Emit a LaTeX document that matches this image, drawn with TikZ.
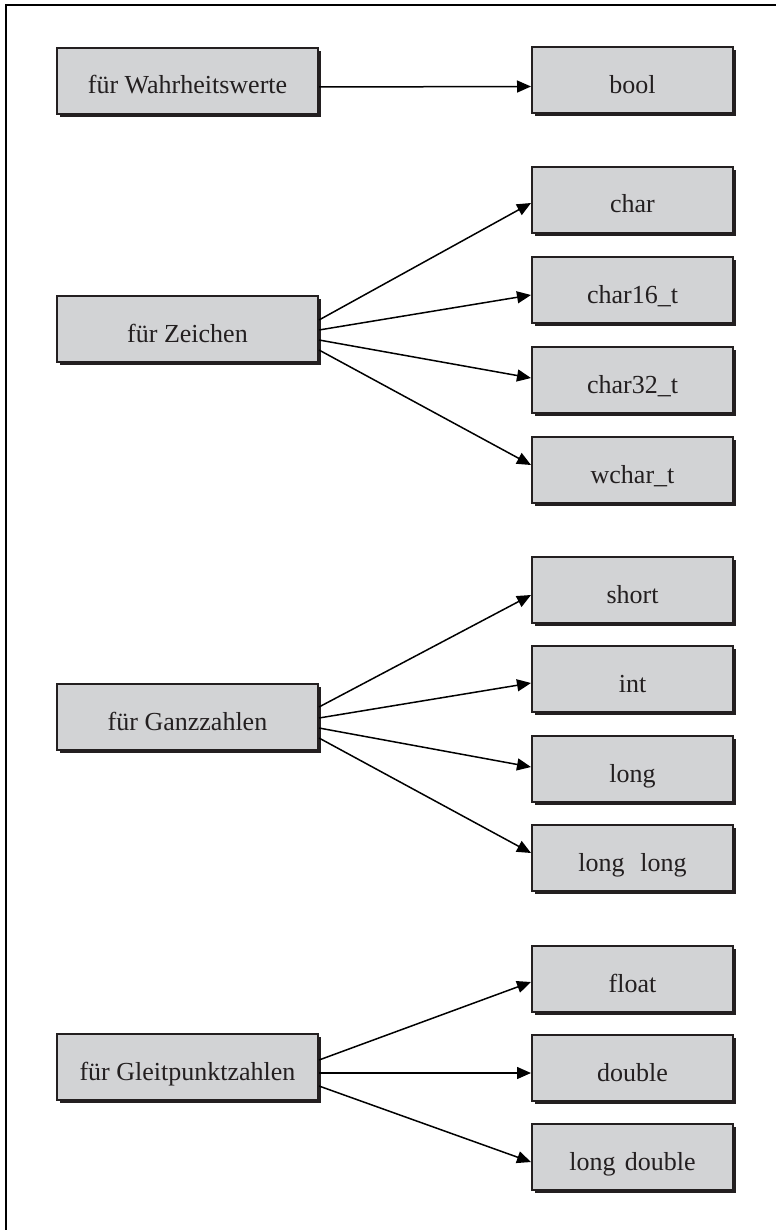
\documentclass[tikz,border=0pt]{standalone}
\usepackage{fontspec}
\setmainfont{Liberation Serif}
\usetikzlibrary{arrows.meta,shadows}

\definecolor{boxfill}{RGB}{210,211,213}
\definecolor{ink}{RGB}{35,31,32}

\tikzset{
  typebox/.style={draw=ink, line width=2pt, fill=boxfill, rectangle,
    minimum height=66pt, inner sep=0pt, text height=26pt, text depth=0pt,
    drop shadow={shadow xshift=3pt, shadow yshift=-3pt, fill=ink, opacity=1},
    font=\fontsize{26}{30}\selectfont, text=ink},
  groupbox/.style={typebox, minimum width=261pt},
  leafbox/.style={typebox, minimum width=201pt},
  arr/.style={draw=black, line width=1.5pt, -{Triangle[length=14pt,width=12pt]}},
  frame/.style={line width=2pt, draw=black}
}

\begin{document}
\begin{tikzpicture}[x=1pt, y=-1pt]
  \useasboundingbox (0,0) rectangle (776,1230);

  % open frame along the left and top edges
  \draw[frame] (6,1230) -- (6,5) -- (776,5);

  % categories
  \node[groupbox] (wahr)  at (187.5,81)   {für Wahrheitswerte};
  \node[groupbox] (zei)   at (187.5,329)  {für Zeichen};
  \node[groupbox] (ganz)  at (187.5,717)  {für Ganzzahlen};
  \node[groupbox] (gleit) at (187.5,1067) {für Gleitpunktzahlen};

  % fundamental types
  \node[leafbox] (bool)   at (632.5,80.5) {bool};
  \node[leafbox] (char)   at (632.5,200)  {char};
  \node[leafbox] (chxvi)  at (632.5,290)  {char16\_t};
  \node[leafbox] (chxxxii) at (632.5,380) {char32\_t};
  \node[leafbox] (wchar)  at (632.5,470)  {wchar\_t};
  \node[leafbox] (short)  at (632.5,590)  {short};
  \node[leafbox] (int)    at (632.5,679)  {int};
  \node[leafbox] (long)   at (632.5,769)  {long};
  \node[leafbox] (llong)  at (632.5,858)  {long\hspace{0.6em}long};
  \node[leafbox] (float)  at (632.5,979)  {float};
  \node[leafbox] (double) at (632.5,1068) {double};
  \node[leafbox] (ldouble) at (632.5,1157) {long\hspace{0.35em}double};

  % truth values
  \draw[arr] ([yshift=-6pt]wahr.east) -- ([yshift=-6pt]bool.west);

  % characters
  \draw[arr] ([yshift=9pt]zei.east)   -- ([yshift=-3pt]char.west);
  \draw[arr] ([yshift=-1pt]zei.east)  -- ([yshift=-5pt]chxvi.west);
  \draw[arr] ([yshift=-11pt]zei.east) -- ([yshift=2pt]chxxxii.west);
  \draw[arr] ([yshift=-21pt]zei.east) -- ([yshift=5pt]wchar.west);

  % integers
  \draw[arr] ([yshift=10pt]ganz.east)  -- ([yshift=-5pt]short.west);
  \draw[arr] ([yshift=-1pt]ganz.east)  -- ([yshift=-4pt]int.west);
  \draw[arr] ([yshift=-11pt]ganz.east) -- ([yshift=2pt]long.west);
  \draw[arr] ([yshift=-21pt]ganz.east) -- ([yshift=5pt]llong.west);

  % floating point
  \draw[arr] ([yshift=7pt]gleit.east)   -- ([yshift=-3pt]float.west);
  \draw[arr] ([yshift=-6pt]gleit.east)  -- ([yshift=-5pt]double.west);
  \draw[arr] ([yshift=-19pt]gleit.east) -- ([yshift=-5pt]ldouble.west);
\end{tikzpicture}
\end{document}
